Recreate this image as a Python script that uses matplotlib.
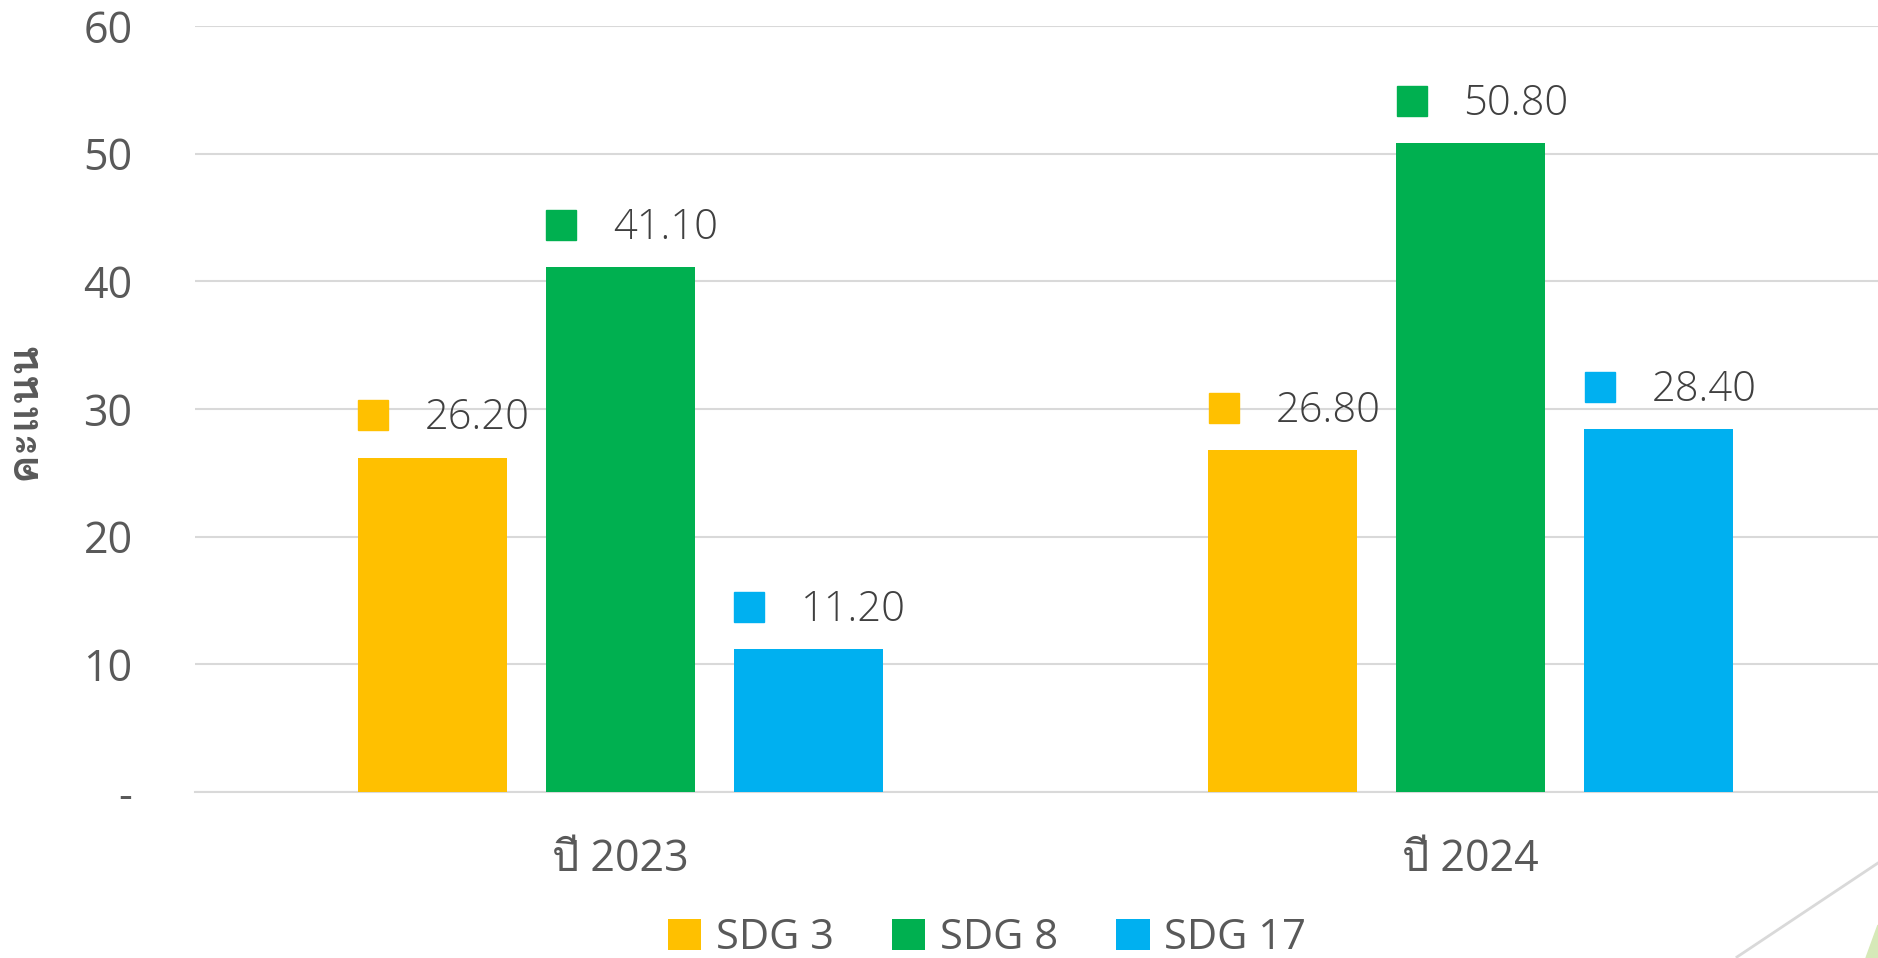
import matplotlib
matplotlib.use('Agg')
import matplotlib.pyplot as plt
from matplotlib import font_manager
from matplotlib.ft2font import FT2Font
from matplotlib.lines import Line2D
from matplotlib.patches import Polygon
import numpy as np


def find_thai_font():
    # first installed family that has Thai glyphs
    for f in font_manager.fontManager.ttflist:
        try:
            cmap = FT2Font(f.fname).get_charmap()
        except Exception:
            continue
        if 0x0E1B in cmap and 0x0E04 in cmap:
            return f.name
    return 'DejaVu Sans'


categories = ['ปี 2023', 'ปี 2024']
series_names = ['SDG 3', 'SDG 8', 'SDG 17']
sdg3 = [26.2, 26.8]
sdg8 = [41.1, 50.8]
sdg17 = [11.2, 28.4]
colors = ['#FFC000', '#00B050', '#00B0F0']
y_ticks = [0, 10, 20, 30, 40, 50, 60]
y_tick_labels = ['-', '10', '20', '30', '40', '50', '60']

thai = find_thai_font()
fams = ['Open Sans', thai, 'DejaVu Sans']
plt.rcParams['font.family'] = fams

fig = plt.figure(figsize=(18.78, 9.58), dpi=100)
# plot area runs past the right edge, as in the cropped slide
ax = fig.add_axes([195 / 1878, 1 - 792 / 958, 1701 / 1878, 766 / 958])

x = np.arange(len(categories))
width = 0.175
pitch = 0.221
series = [sdg3, sdg8, sdg17]
for i, (name, vals, c) in enumerate(zip(series_names, series, colors)):
    pos = x + (i - 1) * pitch
    ax.bar(pos, vals, width, color=c, label=name, zorder=3)
    for p, v in zip(pos, vals):
        left = p - width / 2
        ax.plot([left + 0.018], [v + 3.3], marker='s', markersize=22,
                color=c, linestyle='none', zorder=4, clip_on=False)
        ax.text(left + 0.079, v + 3.1, f'{v:.2f}', fontsize=30, color='#404040',
                va='center', ha='left', fontweight='light', zorder=4)

ax.set_xlim(-0.5, 1.5)
ax.set_ylim(0, 60)
ax.set_yticks(y_ticks)
ax.set_yticklabels(y_tick_labels, fontsize=31, color='#595959')
ax.set_xticks(x)
ax.set_xticklabels(categories, fontsize=31, color='#595959')
ax.tick_params(axis='y', length=0, pad=45)
ax.tick_params(axis='x', length=0, pad=33)
ax.grid(axis='y', color='#d9d9d9', linewidth=1.5, zorder=0)
for s in ['top', 'right', 'left']:
    ax.spines[s].set_visible(False)
ax.spines['bottom'].set_color('#d9d9d9')
ax.spines['bottom'].set_linewidth(1.5)

fig.text(24 / 1878, 1 - 411 / 958, 'คะแนน', rotation=90, fontsize=31,
         fontweight='bold', color='#595959', ha='center', va='center',
         family=[thai, 'DejaVu Sans'])

leg = fig.legend(loc='center', bbox_to_anchor=(987 / 1878, 1 - 938 / 958),
                 ncol=3, frameon=False, fontsize=30, handlelength=0.8,
                 handleheight=0.8, handletextpad=0.35, columnspacing=1.4)
for t in leg.get_texts():
    t.set_color('#595959')

# slide decoration at bottom right corner
fig.add_artist(Line2D([1737 / 1878, 1.0], [1 - 957 / 958, 1 - 863 / 958],
                      color='#d9d9d9', linewidth=2))
fig.add_artist(Polygon([[1866 / 1878, 0], [1.0, 1 - 925 / 958], [1.0, 0]],
                       closed=True, color='#d6e9b8', transform=fig.transFigure))

fig.savefig('out.png', dpi=100)
